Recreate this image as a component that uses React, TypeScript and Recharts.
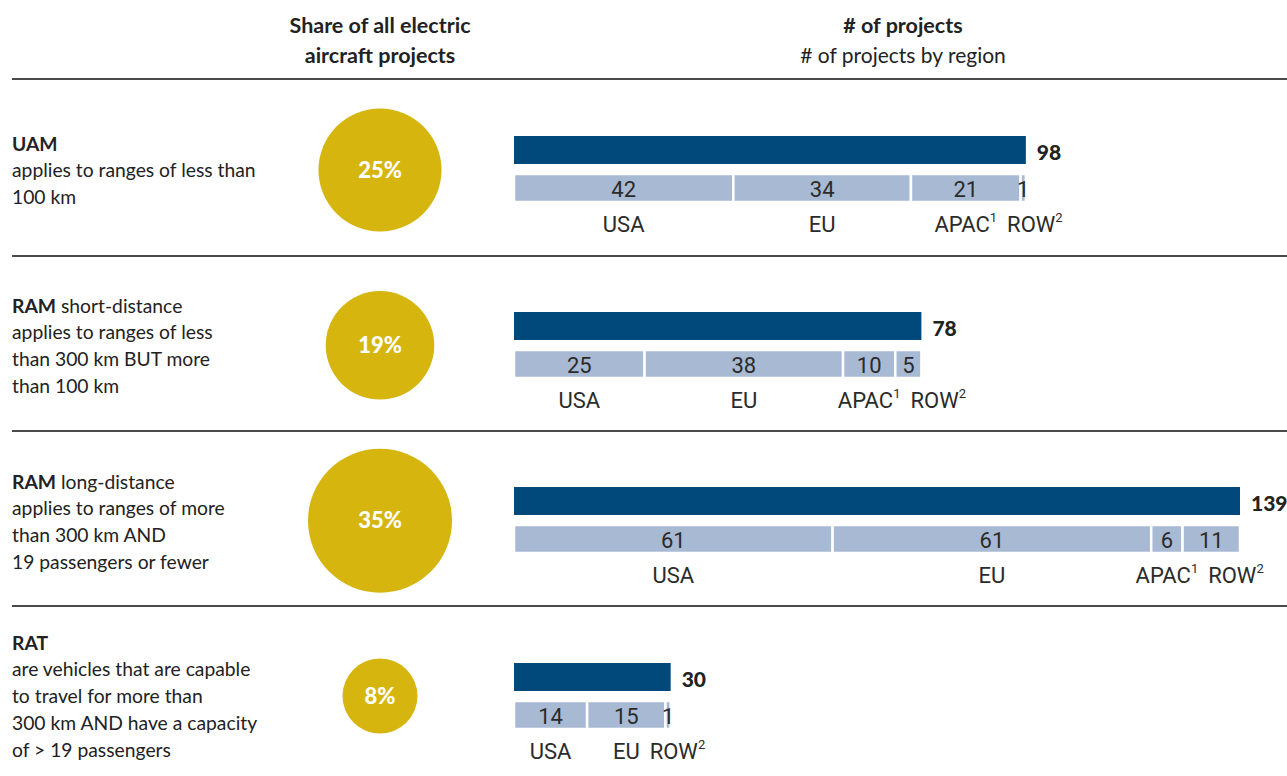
import React from 'react';
import { BarChart, Bar, XAxis, YAxis, LabelList, ScatterChart, Scatter, ZAxis } from 'recharts';

// ---------- data ----------
const categories = ['UAM', 'RAM short-distance', 'RAM long-distance', 'RAT'];
const titleBold = ['UAM', 'RAM', 'RAM', 'RAT'];
const titleRest = ['', ' short-distance', ' long-distance', ''];
const descriptions = [
  ['applies to ranges of less than', '100 km'],
  ['applies to ranges of less', 'than 300 km BUT more', 'than 100 km'],
  ['applies to ranges of more', 'than 300 km AND', '19 passengers or fewer'],
  ['are vehicles that are capable', 'to travel for more than', '300 km AND have a capacity', 'of > 19 passengers'],
];
const shares = [25, 19, 35, 8];
const totals = [98, 78, 139, 30];
const regionNames = ['USA', 'EU', 'APAC', 'ROW'];
const regionFootnotes = ['', '', '1', '2'];
const usaValues = [42, 25, 61, 14];
const euValues = [34, 38, 61, 15];
const apacValues = [21, 10, 6, 0];
const rowValues = [1, 5, 11, 1];
const regionValues = [usaValues, euValues, apacValues, rowValues];
const headerLeft = ['Share of all electric', 'aircraft projects'];
const headerRightBold = '# of projects';
const headerRightSub = '# of projects by region';

// ---------- style ----------
const BODY_FONT = 'Lato, "Noto Sans", sans-serif';
const BAR_FONT = 'Roboto, Arial, sans-serif';
const TEXT = '#222222';
const NAVY = '#00497A';
const LIGHT = '#A8BAD3';
const GOLD = '#D5B50E';
const GROUP_TOPS = [136, 312, 487, 663];
const TEXT_TOPS = [144, 306, 482, 643];
const SEPARATORS = [79, 256, 431, 606];
const NAME_GAP = 10;
const BAR_FONT_SIZE = 22;

let measureCtx: CanvasRenderingContext2D | null = null;
function measure(text: string, font: string): number {
  if (!measureCtx) measureCtx = document.createElement('canvas').getContext('2d');
  if (!measureCtx) return text.length * 11;
  measureCtx.font = font;
  return measureCtx.measureText(text).width;
}
function nameWidth(k: number): number {
  let w = measure(regionNames[k], `${BAR_FONT_SIZE}px ${BAR_FONT}`);
  if (regionFootnotes[k]) w += measure(regionFootnotes[k], `13px ${BAR_FONT}`);
  return w;
}

const makeRegionContent = (g: number, k: number) => (props: any) => {
  const vb = props.viewBox && props.viewBox.width !== undefined ? props.viewBox : props;
  const { x, y, width, height } = vb;
  const value = Number(props.value);
  if (!value || !(width > 0)) return null;
  const vals = regionValues.map((arr) => arr[g]);
  const ppu = width / vals[k];
  const cumBefore = vals.slice(0, k).reduce((a, b) => a + b, 0);
  const base = x - cumBefore * ppu;
  let prevEnd = -Infinity;
  let myStart = 0;
  let acc = 0;
  vals.forEach((v, j) => {
    if (v > 0) {
      const c = base + (acc + v / 2) * ppu;
      const w = nameWidth(j);
      const s = Math.max(c - w / 2, prevEnd + NAME_GAP);
      if (j === k) myStart = s;
      prevEnd = s + w;
    }
    acc += v;
  });
  return (
    <g>
      <text
        x={x + width / 2}
        y={y + height / 2 + 1}
        textAnchor="middle"
        dominantBaseline="central"
        fontFamily={BAR_FONT}
        fontSize={BAR_FONT_SIZE}
        fill="#2b2b2b"
      >
        {value}
      </text>
      <text
        x={myStart}
        y={y + height + 22}
        dominantBaseline="central"
        fontFamily={BAR_FONT}
        fontSize={BAR_FONT_SIZE}
        fill="#2b2b2b"
      >
        {regionNames[k]}
        {regionFootnotes[k] ? (
          <tspan fontSize={13} dy={-7}>
            {regionFootnotes[k]}
          </tspan>
        ) : null}
      </text>
    </g>
  );
};

const totalContent = (props: any) => {
  const vb = props.viewBox && props.viewBox.width !== undefined ? props.viewBox : props;
  const { x, y, width, height } = vb;
  const value = Number(props.value);
  if (!value || !(width > 0)) return null;
  return (
    <text
      x={x + width + 11}
      y={y + height / 2 + 1}
      dominantBaseline="central"
      fontFamily={BODY_FONT}
      fontWeight={900}
      fontSize={21}
      fill={TEXT}
    >
      {value}
    </text>
  );
};

function GroupBars({ g }: { g: number }) {
  const data = [
    { row: 'total', total: totals[g], USA: 0, EU: 0, APAC: 0, ROW: 0 },
    { row: 'region', total: 0, USA: usaValues[g], EU: euValues[g], APAC: apacValues[g], ROW: rowValues[g] },
  ];
  return (
    <div style={{ position: 'absolute', left: 514, top: GROUP_TOPS[g] - 5 }}>
      <BarChart
        width={800}
        height={124}
        data={data}
        layout="vertical"
        barSize={28}
        margin={{ top: 0, right: 74, bottom: 48, left: 0 }}
      >
        <XAxis type="number" domain={[0, 139]} hide allowDataOverflow />
        <YAxis type="category" dataKey="row" hide />
        <Bar dataKey="total" stackId="s" fill={NAVY} isAnimationActive={false}>
          <LabelList dataKey="total" content={totalContent} />
        </Bar>
        {regionNames.map((name, k) => (
          <Bar
            key={name}
            dataKey={name}
            stackId="s"
            fill={LIGHT}
            stroke="#ffffff"
            strokeWidth={2.5}
            isAnimationActive={false}
          >
            <LabelList dataKey={name} content={makeRegionContent(g, k)} />
          </Bar>
        ))}
      </BarChart>
    </div>
  );
}

function Bubbles() {
  const data = shares.map((s, i) => ({ x: 0, pos: i, share: s, label: `${s}%`, name: categories[i] }));
  return (
    <div style={{ position: 'absolute', left: 280, top: 80 }}>
      <ScatterChart width={200} height={694} margin={{ top: 90, right: 0, bottom: 78, left: 0 }}>
        <XAxis type="number" dataKey="x" domain={[-1, 1]} hide />
        <YAxis type="number" dataKey="pos" domain={[0, 3]} reversed hide />
        <ZAxis type="number" dataKey="share" domain={[0, 35]} range={[901, 16286]} />
        <Scatter data={data} fill={GOLD} isAnimationActive={false}>
          <LabelList
            dataKey="label"
            position="center"
            fill="#ffffff"
            fontFamily={BODY_FONT}
            fontWeight={900}
            fontSize={22}
          />
        </Scatter>
      </ScatterChart>
    </div>
  );
}

export default function App() {
  return (
    <div
      style={{
        position: 'absolute',
        left: 0,
        top: 0,
        width: 1287,
        height: 776,
        background: '#ffffff',
        overflow: 'hidden',
        fontFamily: BODY_FONT,
        color: TEXT,
      }}
    >
      {/* headers */}
      {headerLeft.map((t, i) => (
        <div
          key={t}
          style={{
            position: 'absolute',
            left: 230,
            width: 300,
            top: 25 + i * 30 - 15,
            height: 30,
            lineHeight: '30px',
            textAlign: 'center',
            fontWeight: 700,
            fontSize: 21.5,
          }}
        >
          {t}
        </div>
      ))}
      <div
        style={{
          position: 'absolute',
          left: 703,
          width: 400,
          top: 10,
          height: 30,
          lineHeight: '30px',
          textAlign: 'center',
          fontWeight: 700,
          fontSize: 21.5,
        }}
      >
        {headerRightBold}
      </div>
      <div
        style={{
          position: 'absolute',
          left: 703,
          width: 400,
          top: 40,
          height: 30,
          lineHeight: '30px',
          textAlign: 'center',
          fontSize: 21,
        }}
      >
        {headerRightSub}
      </div>

      {/* separators */}
      {SEPARATORS.map((y) => (
        <div
          key={y}
          style={{ position: 'absolute', left: 12, top: y - 1, width: 1275, height: 1.5, background: '#4a4a4a' }}
        />
      ))}

      {/* category descriptions */}
      {categories.map((c, g) => (
        <div
          key={c}
          style={{
            position: 'absolute',
            left: 12,
            top: TEXT_TOPS[g] - 13.5,
            width: 280,
            fontSize: 19.3,
            lineHeight: '26.8px',
            whiteSpace: 'nowrap',
          }}
        >
          <div>
            <span style={{ fontWeight: 700 }}>{titleBold[g]}</span>
            {titleRest[g]}
          </div>
          {descriptions[g].map((line) => (
            <div key={line}>{line}</div>
          ))}
        </div>
      ))}

      <Bubbles />
      {categories.map((c, g) => (
        <GroupBars key={c} g={g} />
      ))}
    </div>
  );
}
